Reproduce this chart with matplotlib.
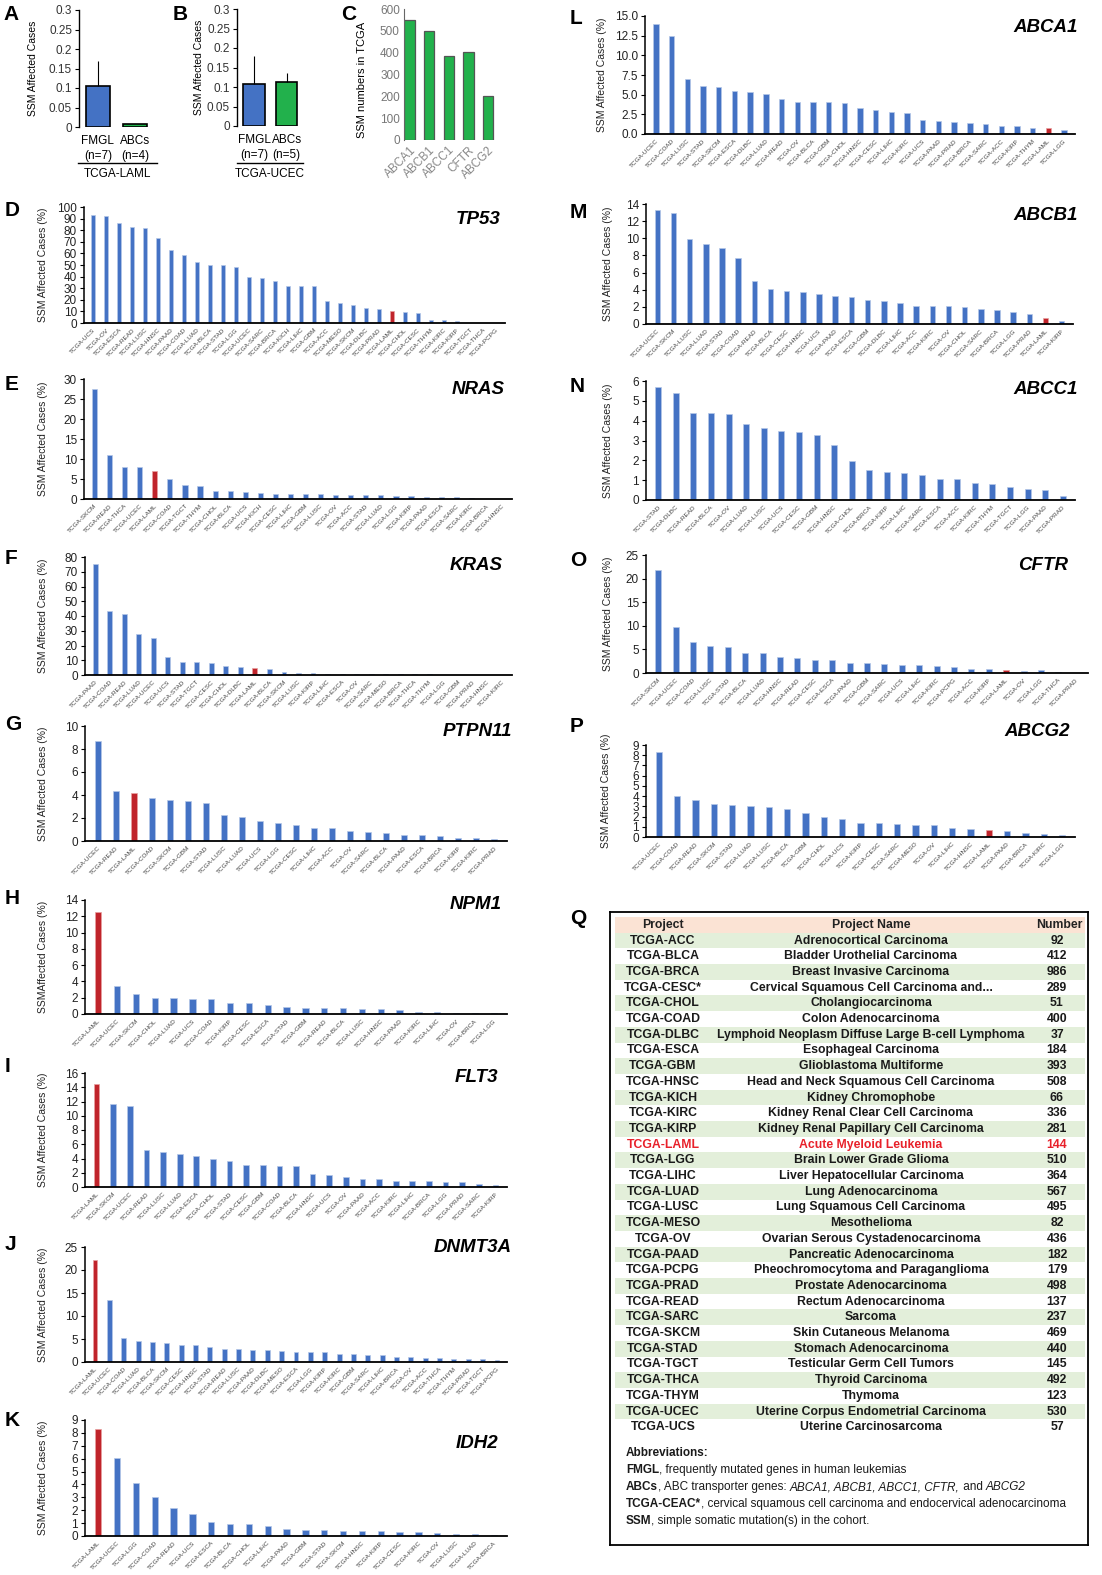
import numpy as np
import matplotlib
matplotlib.use('Agg')
from matplotlib import pyplot as plt
from matplotlib.lines import Line2D
from matplotlib.patches import Rectangle

plt.rcParams['font.family'] = ['Liberation Sans', 'DejaVu Sans']

W, H = 1102, 1575
BLUE = '#4472c4'
RED = '#c0242b'
GREEN = '#22b14c'

# ---- panels A, B, C
ab_groups = ['FMGL\n(n=7)', 'ABCs\n(n=4)']
a_vals = [0.105, 0.007]
a_err = [0.065, 0.0]
b_groups = ['FMGL\n(n=7)', 'ABCs\n(n=5)']
b_vals = [0.108, 0.112]
b_err = [0.072, 0.023]
c_genes = ['ABCA1', 'ABCB1', 'ABCC1', 'CFTR', 'ABCG2']
c_vals = [550, 500, 387, 405, 203]

# ---- gene panels (SSM affected cases, %)
tp53_proj = ['UCS', 'OV', 'ESCA', 'READ', 'LUSC', 'HNSC', 'PAAD', 'COAD', 'LUAD', 'BLCA', 'STAD', 'LGG',
             'UCEC', 'SARC', 'BRCA', 'KICH', 'LIHC', 'GBM', 'ACC', 'MESO', 'SKCM', 'DLBC', 'PRAD', 'LAML',
             'CHOL', 'CESC', 'THYM', 'KIRC', 'KIRP', 'TGCT', 'THCA', 'PCPG']
tp53_vals = [93, 92, 86.5, 82.5, 82.3, 73, 62.7, 58.3, 52.5, 50, 49.8, 48.2, 40, 39.2, 36.3, 31.8, 31.6,
             31.6, 19.2, 17, 15.5, 13.2, 12, 10.2, 9.8, 8.4, 2.8, 2.2, 1.8, 0.3, 0.2, 0.1]

nras_proj = ['SKCM', 'READ', 'THCA', 'UCEC', 'LAML', 'COAD', 'TGCT', 'THYM', 'CHOL', 'BLCA', 'UCS', 'KICH',
             'CESC', 'LIHC', 'GBM', 'LUSC', 'OV', 'ACC', 'STAD', 'LUAD', 'LGG', 'KIRP', 'PAAD', 'ESCA',
             'SARC', 'KIRC', 'BRCA', 'HNSC']
nras_vals = [27.5, 11, 8, 8, 7, 5, 3.5, 3.2, 1.9, 1.9, 1.8, 1.5, 1.3, 1.3, 1.2, 1.2, 1.1, 1.0, 0.9, 0.9,
             0.8, 0.7, 0.5, 0.5, 0.4, 0.2, 0.1, 0.05]

kras_proj = ['PAAD', 'COAD', 'READ', 'LUAD', 'UCEC', 'UCS', 'STAD', 'TGCT', 'CESC', 'CHOL', 'DLBC', 'LAML',
             'BLCA', 'SKCM', 'LUSC', 'KIRP', 'LIHC', 'ESCA', 'OV', 'SARC', 'MESO', 'BRCA', 'THCA', 'THYM',
             'LGG', 'GBM', 'PRAD', 'HNSC', 'KIRC']
kras_vals = [75, 43.5, 41.5, 28, 25.3, 12, 9, 9, 8, 6, 5.3, 4.5, 3.8, 2, 1.5, 1.3, 1.0, 1.0, 0.9, 0.9,
             0.9, 0.7, 0.5, 0.5, 0.2, 0.1, 0.1, 0.1, 0.05]

ptpn11_proj = ['UCEC', 'READ', 'LAML', 'COAD', 'SKCM', 'GBM', 'STAD', 'LUSC', 'LUAD', 'UCS', 'LGG', 'CESC',
               'LIHC', 'ACC', 'OV', 'SARC', 'BLCA', 'PAAD', 'ESCA', 'BRCA', 'KIRP', 'KIRC', 'PRAD']
ptpn11_vals = [8.7, 4.35, 4.15, 3.7, 3.55, 3.5, 3.3, 2.25, 2.1, 1.75, 1.55, 1.35, 1.1, 1.1, 0.9, 0.8,
               0.7, 0.5, 0.5, 0.45, 0.3, 0.25, 0.15]

npm1_proj = ['LAML', 'UCEC', 'SKCM', 'CHOL', 'LUAD', 'UCS', 'COAD', 'KIRP', 'CESC', 'ESCA', 'STAD', 'GBM',
             'READ', 'BLCA', 'LUSC', 'HNSC', 'PAAD', 'KIRC', 'LIHC', 'OV', 'BRCA', 'LGG']
npm1_vals = [12.5, 3.4, 2.4, 2.0, 1.95, 1.8, 1.8, 1.4, 1.4, 1.1, 0.9, 0.75, 0.72, 0.72, 0.6, 0.6, 0.55,
             0.3, 0.3, 0.18, 0.15, 0.15]

flt3_proj = ['LAML', 'SKCM', 'UCEC', 'READ', 'LUSC', 'LUAD', 'ESCA', 'CHOL', 'STAD', 'CESC', 'GBM', 'COAD',
             'BLCA', 'HNSC', 'UCS', 'OV', 'PAAD', 'ACC', 'KIRC', 'LIHC', 'BRCA', 'LGG', 'PRAD', 'SARC', 'KIRP']
flt3_vals = [14.5, 11.7, 11.3, 5.2, 4.9, 4.6, 4.4, 3.9, 3.7, 3.1, 3.05, 3.0, 2.9, 1.8, 1.75, 1.35, 1.1,
             1.1, 0.9, 0.8, 0.8, 0.75, 0.7, 0.4, 0.35]

dnmt3a_proj = ['LAML', 'UCEC', 'COAD', 'LUAD', 'BLCA', 'SKCM', 'CESC', 'HNSC', 'STAD', 'READ', 'LUSC',
               'PAAD', 'DLBC', 'MESO', 'ESCA', 'LGG', 'KIRP', 'KIRC', 'GBM', 'SARC', 'LIHC', 'BRCA', 'OV',
               'ACC', 'THCA', 'THYM', 'PRAD', 'TGCT', 'PCPG']
dnmt3a_vals = [22.2, 13.4, 5.3, 4.5, 4.4, 4.2, 3.8, 3.7, 3.2, 2.9, 2.8, 2.7, 2.6, 2.4, 2.1, 2.1, 2.1,
               1.75, 1.75, 1.6, 1.6, 1.15, 1.1, 0.95, 0.95, 0.75, 0.75, 0.65, 0.5]

idh2_proj = ['LAML', 'UCEC', 'LGG', 'COAD', 'READ', 'UCS', 'ESCA', 'BLCA', 'CHOL', 'LIHC', 'PAAD', 'GBM',
             'STAD', 'SKCM', 'HNSC', 'KIRP', 'CESC', 'KIRC', 'OV', 'LUSC', 'LUAD', 'BRCA']
idh2_vals = [8.3, 6.05, 4.1, 3.0, 2.2, 1.7, 1.1, 0.95, 0.9, 0.8, 0.55, 0.5, 0.45, 0.42, 0.38, 0.35, 0.33,
             0.28, 0.22, 0.17, 0.15, 0.07]

abca1_proj = ['UCEC', 'COAD', 'LUSC', 'STAD', 'SKCM', 'ESCA', 'DLBC', 'LUAD', 'READ', 'OV', 'BLCA', 'GBM',
              'CHOL', 'HNSC', 'CESC', 'LIHC', 'KIRC', 'UCS', 'PAAD', 'PRAD', 'BRCA', 'SARC', 'ACC', 'KIRP',
              'THYM', 'LAML', 'LGG']
abca1_vals = [14, 12.5, 7.05, 6.15, 6.0, 5.45, 5.4, 5.1, 4.4, 4.1, 4.1, 4.05, 3.95, 3.35, 3.05, 2.75,
              2.65, 1.75, 1.6, 1.55, 1.35, 1.25, 1.05, 1.0, 0.8, 0.7, 0.5]

abcb1_proj = ['UCEC', 'SKCM', 'LUSC', 'LUAD', 'STAD', 'COAD', 'READ', 'BLCA', 'CESC', 'HNSC', 'UCS', 'PAAD',
              'ESCA', 'GBM', 'DLBC', 'LIHC', 'ACC', 'KIRC', 'OV', 'CHOL', 'SARC', 'BRCA', 'LGG', 'PRAD',
              'LAML', 'KIRP']
abcb1_vals = [13.25, 13.0, 9.9, 9.35, 8.85, 7.7, 5.05, 4.05, 3.8, 3.7, 3.5, 3.25, 3.2, 2.75, 2.65, 2.45,
              2.15, 2.1, 2.05, 1.95, 1.7, 1.65, 1.35, 1.2, 0.7, 0.3]

abcc1_proj = ['STAD', 'DLBC', 'READ', 'BLCA', 'OV', 'LUAD', 'LUSC', 'UCS', 'CESC', 'GBM', 'HNSC', 'CHOL',
              'BRCA', 'KIRP', 'LIHC', 'SARC', 'ESCA', 'ACC', 'KIRC', 'THYM', 'TGCT', 'LGG', 'PAAD', 'PRAD']
abcc1_vals = [5.68, 5.4, 4.4, 4.38, 4.35, 3.85, 3.62, 3.5, 3.42, 3.28, 2.75, 1.95, 1.5, 1.42, 1.35, 1.25,
              1.07, 1.07, 0.87, 0.8, 0.65, 0.57, 0.52, 0.18]

cftr_proj = ['SKCM', 'UCEC', 'COAD', 'LUSC', 'STAD', 'BLCA', 'LUAD', 'HNSC', 'READ', 'CESC', 'ESCA', 'PAAD',
             'GBM', 'SARC', 'UCS', 'LIHC', 'KIRC', 'PCPG', 'ACC', 'KIRP', 'LAML', 'OV', 'LGG', 'THCA', 'PRAD']
cftr_vals = [21.8, 9.7, 6.5, 5.8, 5.5, 4.3, 4.3, 3.3, 3.1, 2.8, 2.7, 2.2, 2.2, 2.0, 1.8, 1.7, 1.5, 1.2,
             0.9, 0.8, 0.6, 0.5, 0.6, 0.2, 0.1]

abcg2_proj = ['UCEC', 'COAD', 'READ', 'SKCM', 'STAD', 'LUAD', 'LUSC', 'BLCA', 'GBM', 'CHOL', 'UCS', 'KIRP',
              'CESC', 'SARC', 'MESO', 'OV', 'LIHC', 'HNSC', 'LAML', 'PAAD', 'BRCA', 'KIRC', 'LGG']
abcg2_vals = [8.3, 4.0, 3.6, 3.2, 3.1, 3.0, 2.9, 2.7, 2.3, 2.0, 1.8, 1.4, 1.4, 1.3, 1.2, 1.2, 0.9, 0.8,
              0.7, 0.6, 0.35, 0.3, 0.2]

# ---- panel Q table
q_project = ['TCGA-ACC', 'TCGA-BLCA', 'TCGA-BRCA', 'TCGA-CESC*', 'TCGA-CHOL', 'TCGA-COAD', 'TCGA-DLBC',
             'TCGA-ESCA', 'TCGA-GBM', 'TCGA-HNSC', 'TCGA-KICH', 'TCGA-KIRC', 'TCGA-KIRP', 'TCGA-LAML',
             'TCGA-LGG', 'TCGA-LIHC', 'TCGA-LUAD', 'TCGA-LUSC', 'TCGA-MESO', 'TCGA-OV', 'TCGA-PAAD',
             'TCGA-PCPG', 'TCGA-PRAD', 'TCGA-READ', 'TCGA-SARC', 'TCGA-SKCM', 'TCGA-STAD', 'TCGA-TGCT',
             'TCGA-THCA', 'TCGA-THYM', 'TCGA-UCEC', 'TCGA-UCS']
q_name = ['Adrenocortical Carcinoma', 'Bladder Urothelial Carcinoma', 'Breast Invasive Carcinoma',
          'Cervical Squamous Cell Carcinoma and...', 'Cholangiocarcinoma', 'Colon Adenocarcinoma',
          'Lymphoid Neoplasm Diffuse Large B-cell Lymphoma', 'Esophageal Carcinoma', 'Glioblastoma Multiforme',
          'Head and Neck Squamous Cell Carcinoma', 'Kidney Chromophobe', 'Kidney Renal Clear Cell Carcinoma',
          'Kidney Renal Papillary Cell Carcinoma', 'Acute Myeloid Leukemia', 'Brain Lower Grade Glioma',
          'Liver Hepatocellular Carcinoma', 'Lung Adenocarcinoma', 'Lung Squamous Cell Carcinoma',
          'Mesothelioma', 'Ovarian Serous Cystadenocarcinoma', 'Pancreatic Adenocarcinoma',
          'Pheochromocytoma and Paraganglioma', 'Prostate Adenocarcinoma', 'Rectum Adenocarcinoma', 'Sarcoma',
          'Skin Cutaneous Melanoma', 'Stomach Adenocarcinoma', 'Testicular Germ Cell Tumors', 'Thyroid Carcinoma',
          'Thymoma', 'Uterine Corpus Endometrial Carcinoma', 'Uterine Carcinosarcoma']
q_number = [92, 412, 986, 289, 51, 400, 37, 184, 393, 508, 66, 336, 281, 144, 510, 364, 567, 495, 82, 436,
            182, 179, 498, 137, 237, 469, 440, 145, 492, 123, 530, 57]

fig = plt.figure(figsize=(W / 100, H / 100), dpi=100)


def px_axes(x0, y0, x1, y1):
    return fig.add_axes([x0 / W, 1 - y1 / H, (x1 - x0) / W, (y1 - y0) / H])


def letter(x, y, s):
    fig.text(x / W, 1 - y / H, s, fontsize=15, fontweight='bold', va='center', ha='left')


def gene_panel(box, let, let_xy, gene, gene_xy, proj, vals, ymax, step, fmt='%g', ylab_x=43,
               ylabel='SSM Affected Cases (%)'):
    x0, y0, x1, y1 = box
    ax = px_axes(x0, y0, x1, y1)
    n = len(vals)
    x = np.arange(n)
    cols = [RED if p == 'LAML' else BLUE for p in proj]
    edges = ['#e8a0a0' if p == 'LAML' else '#b4c7e7' for p in proj]
    ax.bar(x, vals, width=0.34, color=cols, edgecolor=edges, linewidth=0.5)
    ax.set_xlim(-0.7, n - 0.3)
    ax.set_ylim(0, ymax)
    ticks = np.arange(0, ymax + step / 2, step)
    ax.set_yticks(ticks)
    ax.set_yticklabels([fmt % t for t in ticks], fontsize=8.5, color='#222')
    ax.set_xticks(x)
    ax.set_xticklabels(['TCGA-' + p for p in proj], rotation=45, ha='right', rotation_mode='anchor',
                       fontsize=4.6, color='#444')
    ax.tick_params(axis='x', length=0, pad=3)
    ax.tick_params(axis='y', length=3, width=0.8, pad=2)
    for s in ['top', 'right']:
        ax.spines[s].set_visible(False)
    ax.spines['left'].set_linewidth(1.1)
    ax.spines['bottom'].set_linewidth(1.3)
    fig.text(ylab_x / W, 1 - ((y0 + y1) / 2) / H, ylabel, rotation=90, fontsize=7.5, color='#222',
             ha='center', va='center')
    fig.text(gene_xy[0] / W, 1 - gene_xy[1] / H, gene, fontsize=13.5, fontweight='bold', style='italic',
             ha='right', va='center')
    letter(let_xy[0], let_xy[1], let)
    return ax


# ---- A and B
def ab_panel(box, groups, vals, err, xlim, ylab_x, line_x, group_name):
    x0, y0, x1, y1 = box
    ax = px_axes(x0, y0, x1, y1)
    ax.bar([0, 1], vals, width=0.66, color=[BLUE, GREEN], edgecolor='black', linewidth=1.2)
    ax.errorbar([0, 1], vals, yerr=[[0, 0], err], fmt='none', ecolor='black', elinewidth=0.8, capsize=0)
    ax.set_xlim(*xlim)
    ax.set_ylim(0, 0.3)
    ticks = [0, 0.05, 0.1, 0.15, 0.2, 0.25, 0.3]
    ax.set_yticks(ticks)
    ax.set_yticklabels(['%g' % t for t in ticks], fontsize=8.5, color='#333')
    ax.set_xticks([0, 1])
    ax.set_xticklabels(groups, fontsize=8.5, linespacing=1.3)
    ax.tick_params(axis='x', length=0, pad=6)
    ax.tick_params(axis='y', length=3, width=0.8, pad=2)
    for s in ['top', 'right', 'bottom']:
        ax.spines[s].set_visible(False)
    ax.spines['left'].set_linewidth(1.0)
    fig.text(ylab_x / W, 1 - ((y0 + y1) / 2) / H, 'SSM Affected Cases', rotation=90, fontsize=7.5,
             ha='center', va='center')
    fig.add_artist(Line2D([line_x[0] / W, line_x[1] / W], [1 - 163 / H, 1 - 163 / H], color='black', lw=1))
    fig.text(((line_x[0] + line_x[1]) / 2) / W, 1 - 174 / H, group_name, fontsize=8.5, ha='center',
             va='center')


ab_panel((79, 10, 157, 127), ab_groups, a_vals, a_err, (-0.51, 1.6), 33, (78, 157), 'TCGA-LAML')
ab_panel((237, 9, 303, 126), b_groups, b_vals, b_err, (-0.52, 1.5), 199, (237, 303), 'TCGA-UCEC')
letter(3, 15, 'A')
letter(173, 15, 'B')
letter(341, 15, 'C')

# ---- C
axc = px_axes(404, 9, 498, 140)
axc.bar(np.arange(len(c_vals)), c_vals, width=0.52, color=GREEN, edgecolor='#555', linewidth=0.9)
axc.set_xlim(-0.28, 4.5)
axc.set_ylim(0, 600)
axc.set_yticks(np.arange(0, 601, 100))
axc.set_yticklabels([str(t) for t in range(0, 601, 100)], fontsize=8.5, color='#777')
axc.set_xticks(np.arange(len(c_genes)))
axc.set_xticklabels(c_genes, rotation=45, ha='right', rotation_mode='anchor', fontsize=8.5, color='#888')
axc.tick_params(axis='x', length=0, pad=3)
axc.tick_params(axis='y', length=0, pad=3)
for s in ['top', 'right', 'bottom']:
    axc.spines[s].set_visible(False)
axc.spines['left'].set_color('#666')
fig.text(362 / W, 1 - 80 / H, 'SSM numbers in TCGA', rotation=90, fontsize=8, ha='center', va='center')

# ---- left column gene panels
gene_panel((84, 207, 505, 323), 'D', (5, 211), 'TP53', (500, 220), tp53_proj, tp53_vals, 100, 10)
gene_panel((84, 379, 512, 499), 'E', (5, 384), 'NRAS', (505, 390), nras_proj, nras_vals, 30, 5)
gene_panel((85, 557, 512, 675), 'F', (5, 558), 'KRAS', (503, 566), kras_proj, kras_vals, 80, 10)
gene_panel((85, 726, 507, 841), 'G', (5, 724), 'PTPN11', (512, 731), ptpn11_proj, ptpn11_vals, 10, 2)
gene_panel((85, 900, 507, 1014), 'H', (5, 898), 'NPM1', (502, 904), npm1_proj, npm1_vals, 14, 2,
           ylabel='SSMAffected Cases (%)')
gene_panel((85, 1073, 507, 1187), 'I', (5, 1067), 'FLT3', (498, 1077), flt3_proj, flt3_vals, 16, 2)
gene_panel((85, 1247, 507, 1362), 'J', (5, 1244), 'DNMT3A', (512, 1248), dnmt3a_proj, dnmt3a_vals, 25, 5)
gene_panel((85, 1420, 507, 1536), 'K', (5, 1420), 'IDH2', (498, 1443), idh2_proj, idh2_vals, 9, 1)

# ---- right column gene panels
gene_panel((645, 16, 1075, 134), 'L', (570, 18), 'ABCA1', (1078, 28), abca1_proj, abca1_vals, 15, 2.5,
           fmt='%.1f', ylab_x=602)
gene_panel((646, 204, 1073, 324), 'M', (570, 213), 'ABCB1', (1078, 215), abcb1_proj, abcb1_vals, 14, 2,
           ylab_x=608)
gene_panel((646, 381, 1075, 500), 'N', (570, 386), 'ABCC1', (1078, 390), abcc1_proj, abcc1_vals, 6, 1,
           ylab_x=608)
gene_panel((646, 555, 1088, 673), 'O', (570, 560), 'CFTR', (1068, 566), cftr_proj, cftr_vals, 25, 5,
           ylab_x=608)
gene_panel((646, 745, 1075, 837), 'P', (570, 727), 'ABCG2', (1070, 732), abcg2_proj, abcg2_vals, 9, 1,
           ylab_x=606)

# ---- Q table
letter(570, 918, 'Q')
axq = px_axes(610, 912, 1088, 1545)
axq.set_xlim(610, 1088)
axq.set_ylim(1545, 912)
axq.set_xticks([])
axq.set_yticks([])
for s in axq.spines.values():
    s.set_linewidth(1.3)

axq.add_patch(Rectangle((615, 917), 470, 15.5, color='#fbe3d4', lw=0))
for xc, t in [(663, 'Project'), (871, 'Project Name'), (1059, 'Number')]:
    axq.text(xc, 925, t, fontsize=8.8, fontweight='bold', ha='center', va='center', color='#222')

row_h = 15.7
for i, (p, nm, num) in enumerate(zip(q_project, q_name, q_number)):
    yc = 940.5 + i * row_h
    if i % 2 == 0:
        axq.add_patch(Rectangle((615, yc - row_h / 2), 470, row_h, color='#e3efda', lw=0))
    col = '#e8212a' if p == 'TCGA-LAML' else '#1a1a1a'
    axq.text(663, yc, p, fontsize=8.8, fontweight='bold', ha='center', va='center', color=col)
    axq.text(871, yc, nm, fontsize=8.8, fontweight='bold', ha='center', va='center', color=col)
    axq.text(1057, yc, str(num), fontsize=8.8, fontweight='bold', ha='center', va='center', color=col)

renderer = fig.canvas.get_renderer()


def runs(x, y, parts):
    for txt, wt, st in parts:
        t = axq.text(x, y, txt, fontsize=8.5, fontweight=wt, style=st, ha='left', va='center', color='#1a1a1a')
        x += t.get_window_extent(renderer).width


abbrev = [
    [('Abbreviations:', 'bold', 'normal')],
    [('FMGL', 'bold', 'normal'), (', frequently mutated genes in human leukemias', 'normal', 'normal')],
    [('ABCs', 'bold', 'normal'), (', ABC transporter genes: ', 'normal', 'normal'),
     ('ABCA1, ABCB1, ABCC1, CFTR,', 'normal', 'italic'), (' and ', 'normal', 'normal'),
     ('ABCG2', 'normal', 'italic')],
    [('TCGA-CEAC*', 'bold', 'normal'),
     (', cervical squamous cell carcinoma and endocervical adenocarcinoma', 'normal', 'normal')],
    [('SSM', 'bold', 'normal'), (', simple somatic mutation(s) in the cohort.', 'normal', 'normal')],
]
for k, parts in enumerate(abbrev):
    runs(626, 1453 + k * 17, parts)

fig.savefig('out.png', dpi=100)
